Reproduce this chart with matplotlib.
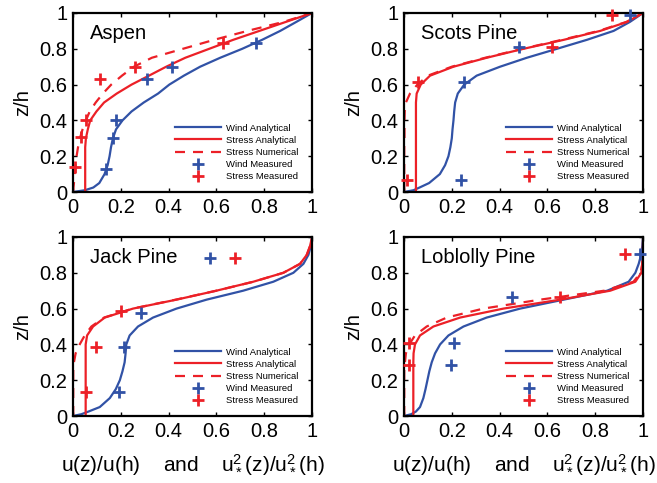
import matplotlib
matplotlib.use('Agg')
import matplotlib.pyplot as plt
from matplotlib.ticker import FormatStrFormatter

plt.rcParams['font.family'] = ['Liberation Sans', 'DejaVu Sans']
plt.rcParams['mathtext.default'] = 'regular'

BLUE = '#3152a6'
RED = '#ec2027'

# heights z/h shared by all profile curves
z = [0, 0.01, 0.025, 0.05, 0.1, 0.15, 0.2, 0.25, 0.3, 0.35, 0.4, 0.45,
     0.5, 0.55, 0.6, 0.65, 0.7, 0.75, 0.8, 0.85, 0.9, 0.95, 1.0]

# Aspen
aspen_wind = [0, 0.05, 0.085, 0.11, 0.132, 0.145, 0.153, 0.159, 0.167, 0.18, 0.207, 0.245,
              0.296, 0.356, 0.403, 0.464, 0.532, 0.616, 0.708, 0.791, 0.867, 0.934, 1.0]
aspen_stress = [0.051, 0.051, 0.051, 0.051, 0.051, 0.051, 0.051, 0.051, 0.054, 0.062, 0.072, 0.098,
                0.13, 0.183, 0.245, 0.318, 0.39, 0.47, 0.57, 0.67, 0.78, 0.89, 1.0]
aspen_stress_num = [0, 0.001, 0.002, 0.004, 0.007, 0.01, 0.015, 0.021, 0.029, 0.04, 0.054, 0.07,
                    0.095, 0.125, 0.16, 0.205, 0.255, 0.33, 0.46, 0.59, 0.73, 0.88, 1.0]
aspen_wind_meas_x = [0.137, 0.167, 0.179, 0.31, 0.415, 0.764]
aspen_wind_meas_z = [0.131, 0.303, 0.402, 0.63, 0.70, 0.834]
aspen_stress_meas_x = [0.007, 0.035, 0.056, 0.112, 0.258, 0.628]
aspen_stress_meas_z = [0.137, 0.309, 0.402, 0.63, 0.70, 0.831]

# Scots Pine
scots_wind = [0, 0.04, 0.065, 0.105, 0.15, 0.172, 0.186, 0.194, 0.2, 0.203, 0.207, 0.21,
              0.214, 0.225, 0.252, 0.304, 0.402, 0.514, 0.64, 0.765, 0.877, 0.945, 1.0]
scots_stress = [0.05, 0.05, 0.05, 0.05, 0.05, 0.05, 0.05, 0.05, 0.05, 0.05, 0.05, 0.05,
                0.05, 0.053, 0.07, 0.109, 0.207, 0.346, 0.5, 0.668, 0.821, 0.933, 1.0]
scots_stress_num = [0, 0.001, 0.001, 0.001, 0.001, 0.001, 0.001, 0.001, 0.002, 0.002, 0.002, 0.003,
                    0.008, 0.025, 0.056, 0.1, 0.2, 0.34, 0.495, 0.66, 0.815, 0.93, 1.0]
scots_wind_meas_x = [0.237, 0.253, 0.483, 0.944]
scots_wind_meas_z = [0.069, 0.617, 0.809, 0.991]
scots_stress_meas_x = [0.011, 0.06, 0.619, 0.869]
scots_stress_meas_z = [0.069, 0.617, 0.809, 0.991]

# Jack Pine
jack_wind = [0, 0.035, 0.065, 0.112, 0.154, 0.179, 0.196, 0.207, 0.216, 0.22, 0.223, 0.237,
             0.272, 0.335, 0.433, 0.559, 0.712, 0.838, 0.922, 0.964, 0.985, 0.995, 1.0]
jack_stress = [0.053, 0.053, 0.053, 0.053, 0.053, 0.053, 0.053, 0.053, 0.053, 0.053, 0.053, 0.059,
               0.084, 0.133, 0.251, 0.433, 0.6, 0.754, 0.88, 0.95, 0.978, 0.992, 1.0]
jack_stress_num = [0, 0.001, 0.001, 0.001, 0.001, 0.001, 0.001, 0.001, 0.004, 0.011, 0.028, 0.049,
                   0.077, 0.13, 0.25, 0.43, 0.6, 0.755, 0.88, 0.95, 0.978, 0.992, 1.0]
jack_wind_meas_x = [0.193, 0.212, 0.286, 0.575]
jack_wind_meas_z = [0.132, 0.385, 0.577, 0.881]
jack_stress_meas_x = [0.053, 0.095, 0.202, 0.679]
jack_stress_meas_z = [0.132, 0.385, 0.585, 0.881]

# Loblolly Pine
lob_wind = [0, 0.03, 0.05, 0.067, 0.081, 0.09, 0.098, 0.106, 0.116, 0.13, 0.151, 0.186,
            0.249, 0.346, 0.486, 0.668, 0.85, 0.94, 0.968, 0.982, 0.992, 0.997, 1.0]
lob_stress = [0.039, 0.039, 0.039, 0.039, 0.039, 0.039, 0.039, 0.039, 0.039, 0.04, 0.046, 0.067,
              0.123, 0.235, 0.416, 0.654, 0.863, 0.968, 0.993, 0.997, 0.999, 1.0, 1.0]
lob_stress_num = [0, 0.001, 0.001, 0.001, 0.001, 0.001, 0.001, 0.001, 0.004, 0.008, 0.022, 0.046,
                  0.095, 0.179, 0.332, 0.57, 0.838, 0.96, 0.99, 0.997, 0.999, 1.0, 1.0]
lob_wind_meas_x = [0.196, 0.211, 0.451, 0.989]
lob_wind_meas_z = [0.285, 0.408, 0.667, 0.907]
lob_stress_meas_x = [0.02, 0.02, 0.651, 0.923]
lob_stress_meas_z = [0.285, 0.408, 0.667, 0.907]

panels = [
    ('Aspen', aspen_wind, aspen_stress, aspen_stress_num,
     aspen_wind_meas_x, aspen_wind_meas_z, aspen_stress_meas_x, aspen_stress_meas_z),
    ('Scots Pine', scots_wind, scots_stress, scots_stress_num,
     scots_wind_meas_x, scots_wind_meas_z, scots_stress_meas_x, scots_stress_meas_z),
    ('Jack Pine', jack_wind, jack_stress, jack_stress_num,
     jack_wind_meas_x, jack_wind_meas_z, jack_stress_meas_x, jack_stress_meas_z),
    ('Loblolly Pine', lob_wind, lob_stress, lob_stress_num,
     lob_wind_meas_x, lob_wind_meas_z, lob_stress_meas_x, lob_stress_meas_z),
]

fig = plt.figure(figsize=(6.57, 4.83), dpi=100)
W, H = 657.0, 483.0
boxes = [(73, 13), (404, 13), (73, 237), (404, 237)]  # left, top in pixels
aw, ah = 239, 179

for i, (name, wind, stress, stress_num, wmx, wmz, smx, smz) in enumerate(panels):
    left, top = boxes[i]
    ax = fig.add_axes([left / W, 1 - (top + ah) / H, aw / W, ah / H])
    ax.plot(wind, z, color=BLUE, lw=1.6, label='Wind Analytical')
    ax.plot(stress, z, color=RED, lw=1.6, label='Stress Analytical')
    ax.plot(stress_num, z, color=RED, lw=1.6, ls=(0, (4.5, 3.6)), label='Stress Numerical')
    ax.plot(wmx, wmz, ls='none', marker='+', ms=8, mew=2, color=BLUE,
            label='Wind Measured', clip_on=False, zorder=5)
    ax.plot(smx, smz, ls='none', marker='+', ms=8, mew=2, color=RED,
            label='Stress Measured', clip_on=False, zorder=5)

    ax.set_xlim(0, 1)
    ax.set_ylim(0, 1)
    ticks = [0, 0.2, 0.4, 0.6, 0.8, 1.0]
    ax.set_xticks(ticks)
    ax.set_yticks(ticks)
    ax.xaxis.set_major_formatter(FormatStrFormatter('%g'))
    ax.yaxis.set_major_formatter(FormatStrFormatter('%g'))
    ax.tick_params(direction='in', length=3, width=1, top=True, right=True,
                   labelsize=14.5, pad=4)
    for sp in ax.spines.values():
        sp.set_linewidth(1.6)

    ax.text(0.07, 0.888, name, transform=ax.transAxes, va='center', ha='left',
            fontsize=14.5)
    ax.set_ylabel('z/h', fontsize=14.5, labelpad=5)
    if i >= 2:
        ax.set_xlabel(r'u(z)/u(h)    and    u$_*^2$(z)/u$_*^2$(h)', fontsize=15, labelpad=9)

    ax.legend(loc='upper left', bbox_to_anchor=(0.425, 0.382), frameon=False,
              fontsize=6.8, handlelength=4.9, handletextpad=0.5, labelspacing=0.33,
              borderpad=0, borderaxespad=0, numpoints=1)

fig.savefig('out.png', dpi=100)
